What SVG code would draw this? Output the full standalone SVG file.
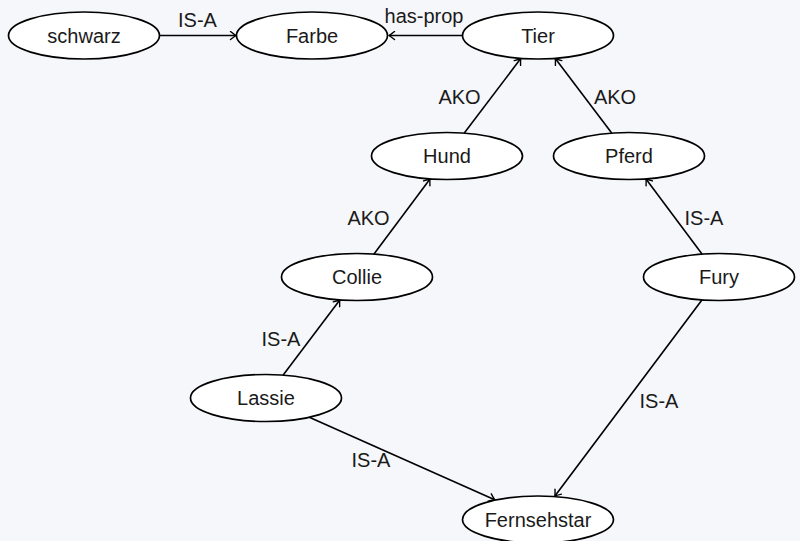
<svg xmlns="http://www.w3.org/2000/svg" width="800" height="541" viewBox="0 0 800 541">
<defs>
<marker id="arr" viewBox="-7 -5 9 10" refX="0" refY="0" markerWidth="9" markerHeight="10" markerUnits="userSpaceOnUse" orient="auto">
<path d="M -5.5 -4 Q -1.6 -0.9 0 0 Q -1.6 0.9 -5.5 4" fill="none" stroke="#000" stroke-width="1.4" stroke-linecap="round"/>
</marker>
</defs>
<style>
.n ellipse{fill:#fff;stroke:#000;stroke-width:1.7}
text{font-family:"Liberation Sans",Arial,sans-serif;font-size:20px;fill:#1a1a1a;text-anchor:middle}
.e line{stroke:#000;stroke-width:1.6;marker-end:url(#arr)}
</style>
<rect width="800" height="541" fill="#f6f7fb"/>
<g id="connectors" class="e">
<line x1="160" y1="35.5" x2="236" y2="35.5"/>
<line x1="462.5" y1="35.5" x2="389" y2="35.5"/>
<line x1="464.3" y1="133.1" x2="520.7" y2="58.6"/>
<line x1="611.7" y1="133.1" x2="555.3" y2="58.6"/>
<line x1="374" y1="254.1" x2="430" y2="178.9"/>
<line x1="702" y1="254.1" x2="646" y2="178.9"/>
<line x1="283.2" y1="375.1" x2="339.8" y2="299.9"/>
<line x1="309.3" y1="417.3" x2="494.7" y2="499.7"/>
<line x1="701.9" y1="299.9" x2="554.9" y2="496.1"/>
<text x="197.5" y="27">IS-A</text>
<text x="424" y="23">has-prop</text>
<text x="459.5" y="104">AKO</text>
<text x="615" y="104">AKO</text>
<text x="368.5" y="225">AKO</text>
<text x="704" y="225">IS-A</text>
<text x="281" y="346">IS-A</text>
<text x="371" y="467">IS-A</text>
<text x="659" y="408">IS-A</text>
</g>
<g id="schwarz" class="n"><ellipse cx="84" cy="35.5" rx="75.5" ry="23.5"/><text x="84" y="42.5">schwarz</text></g>
<g id="Farbe" class="n"><ellipse cx="312" cy="35.5" rx="75.5" ry="23.5"/><text x="312" y="42.5">Farbe</text></g>
<g id="Tier" class="n"><ellipse cx="538" cy="35.5" rx="75.5" ry="23.5"/><text x="538" y="42.5">Tier</text></g>
<g id="Hund" class="n"><ellipse cx="447" cy="156" rx="75.5" ry="23.5"/><text x="447" y="163">Hund</text></g>
<g id="Pferd" class="n"><ellipse cx="629" cy="156" rx="75.5" ry="23.5"/><text x="629" y="163">Pferd</text></g>
<g id="Collie" class="n"><ellipse cx="357" cy="277" rx="75.5" ry="23.5"/><text x="357" y="284">Collie</text></g>
<g id="Fury" class="n"><ellipse cx="719" cy="277" rx="75.5" ry="23.5"/><text x="719" y="284">Fury</text></g>
<g id="Lassie" class="n"><ellipse cx="266" cy="398" rx="75.5" ry="23.5"/><text x="266" y="405">Lassie</text></g>
<g id="Fernsehstar" class="n"><ellipse cx="538" cy="519.5" rx="75.5" ry="23.5"/><text x="538" y="526.5">Fernsehstar</text></g>
</svg>
